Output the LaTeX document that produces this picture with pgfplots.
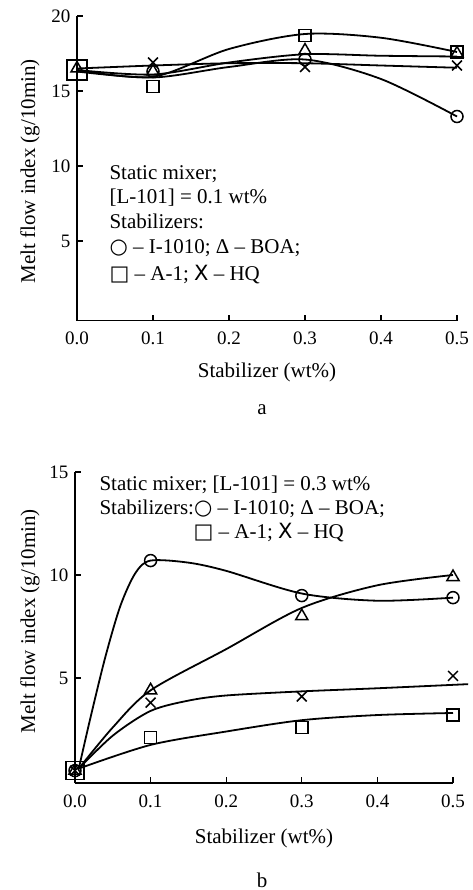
\documentclass[border=0pt]{standalone}
\usepackage{fontspec}
\setmainfont{Liberation Serif}
\newfontfamily\symf{DejaVu Sans}
\usepackage{pgfplots}
\pgfplotsset{compat=1.18}
\pgfplotsset{myax/.style={
  scale only axis, axis lines=left, axis line style={line width=1.6pt,-},
  tick style={line width=1.3pt,black}, tick align=inside, major tick length=6pt,
  xmin=0, xmax=0.5, xtick={0,0.1,0.2,0.3,0.4,0.5},
  xticklabel style={/pgf/number format/.cd, fixed, fixed zerofill, precision=1, /tikz/yshift=-8pt},
  yticklabel style={xshift=-3pt},
  /pgf/number format/assume math mode=true,
  ticklabel style={font=\fontsize{19}{19}\selectfont},
  label style={font=\fontsize{21}{21}\selectfont},
  xlabel={Stabilizer (wt\%)}, ylabel={Melt flow index (g/10min)},
  clip=false,
  curve/.style={black, line width=1.8pt, smooth, tension=0.5, no marks},
  mk/.style={black, only marks, line width=1.5pt, mark options={fill=white, solid}},
}}
\begin{document}
\begin{tikzpicture}
\useasboundingbox (0pt,0pt) rectangle (472pt,-890pt);
\begin{axis}[myax, at={(77pt,-320.5pt)}, anchor=south west, width=380pt, height=304.5pt,
  ymin=-0.3, ymax=20, ytick={5,10,15,20},
  ylabel style={at={(axis description cs:-0.124,0.49)}, anchor=center},
  xlabel style={at={(axis description cs:0.5,0)}, anchor=center, yshift=-52pt}]
\addplot[curve] coordinates {(0,16.4)(0.1,15.95)(0.2,17.8)(0.3,18.8)(0.4,18.55)(0.5,17.6)};
\addplot[curve] coordinates {(0,16.4)(0.1,16.1)(0.2,16.9)(0.3,17.45)(0.4,17.35)(0.5,17.3)};
\addplot[curve] coordinates {(0,16.3)(0.1,15.9)(0.2,16.6)(0.3,17.1)(0.4,15.8)(0.5,13.3)};
\addplot[curve] coordinates {(0,16.5)(0.1,16.7)(0.2,16.85)(0.3,16.85)(0.4,16.7)(0.5,16.55)};
\addplot[mk, mark=o, mark size=6] coordinates {(0.1,16.3)(0.3,17.1)(0.5,13.3)};
\addplot[mk, mark=square, mark size=10] coordinates {(0,16.4)};
\addplot[mk, mark=square, mark size=6] coordinates {(0.1,15.3)(0.3,18.7)(0.5,17.6)};
\addplot[mk, mark=triangle, mark size=7] coordinates {(0,16.5)(0.1,16.3)(0.3,17.7)(0.5,17.5)};
\addplot[mk, mark=x, mark size=7] coordinates {(0.1,16.9)(0.3,16.6)(0.5,16.7)};
\end{axis}
\begin{scope}[font=\fontsize{21}{21}\selectfont]
\node[anchor=base west] at (106pt,-180pt) {Static mixer;};
\node[anchor=base west] at (106pt,-204pt) {[L-101] = 0.1 wt\%};
\node[anchor=base west] at (106pt,-229pt) {Stabilizers:};
\node[anchor=base west] at (106pt,-254pt) {{\symf ○} – I-1010; Δ – BOA;};
\node[anchor=base west] at (106pt,-280pt) {{\symf □} – A-1; {\symf X} – HQ};
\node at (262pt,-410pt) {a};
\end{scope}
\begin{axis}[myax, at={(75pt,-783pt)}, anchor=south west, width=378pt, height=311pt,
  ymin=-0.1, ymax=15, ytick={5,10,15},
  ylabel style={at={(axis description cs:-0.119,0.52)}, anchor=center},
  xlabel style={at={(axis description cs:0.5,0)}, anchor=center, yshift=-55pt}]
\addplot[curve] coordinates {(0.005,0.6)(0.02,3.0)(0.04,6.0)(0.06,8.5)(0.08,10.1)(0.1,10.7)(0.15,10.6)(0.2,10.2)(0.3,9.1)(0.4,8.75)(0.5,8.9)};
\addplot[curve] coordinates {(0.005,0.6)(0.05,2.6)(0.1,4.4)(0.2,6.4)(0.3,8.4)(0.4,9.5)(0.5,10.0)};
\addplot[curve] coordinates {(0.005,0.6)(0.05,2.2)(0.1,3.4)(0.15,3.9)(0.2,4.15)(0.3,4.35)(0.4,4.5)(0.52,4.7)};
\addplot[curve] coordinates {(0.005,0.6)(0.1,1.75)(0.2,2.4)(0.3,2.95)(0.4,3.2)(0.5,3.3)};
\addplot[mk, mark=square, mark size=9] coordinates {(0,0.5)};
\addplot[mk, mark=o, mark size=6] coordinates {(0,0.5)(0.1,10.7)(0.3,9.0)(0.5,8.9)};
\addplot[mk, mark=triangle, mark size=7] coordinates {(0,0.5)(0.1,4.4)(0.3,8.0)(0.5,9.9)};
\addplot[mk, mark=square, mark size=6] coordinates {(0.1,2.1)(0.3,2.6)(0.5,3.2)};
\addplot[mk, mark=x, mark size=7] coordinates {(0,0.5)(0.1,3.8)(0.3,4.1)(0.5,5.1)};
\end{axis}
\begin{scope}[font=\fontsize{21}{21}\selectfont]
\node[anchor=base west] at (96pt,-490pt) {Static mixer; [L-101] = 0.3 wt\%};
\node[anchor=base west] at (96pt,-514pt) {Stabilizers:{\symf ○} – I-1010; Δ – BOA;};
\node[anchor=base west] at (190pt,-538pt) {{\symf □} – A-1; {\symf X} – HQ};
\node at (262pt,-880pt) {b};
\end{scope}
\end{tikzpicture}
\end{document}
